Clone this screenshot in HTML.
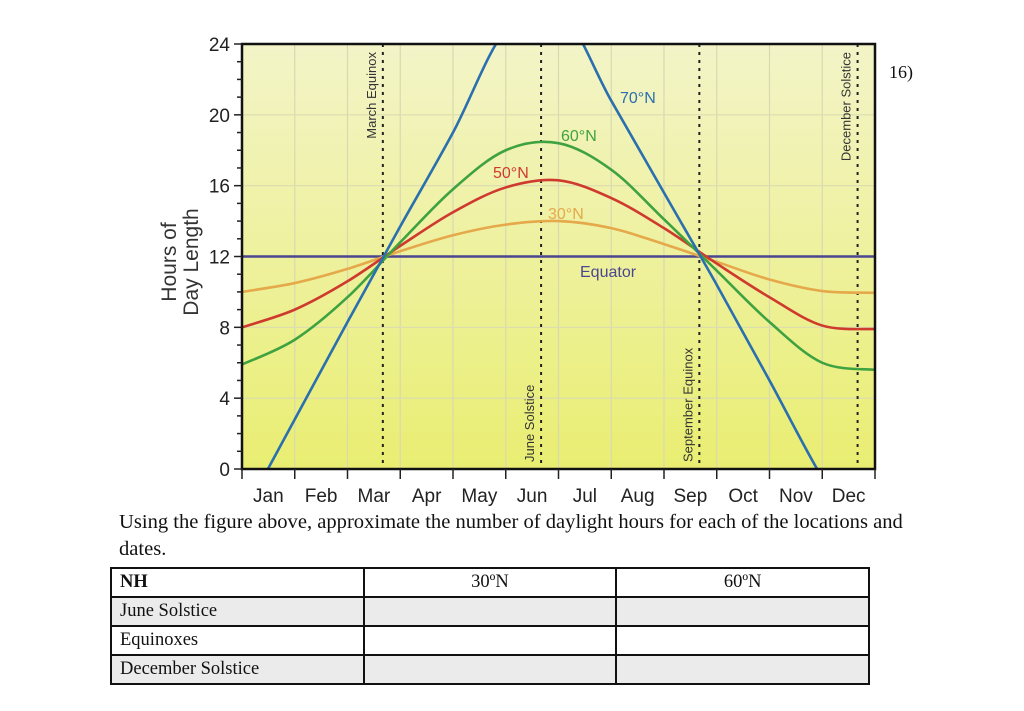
<!DOCTYPE html>
<html><head><meta charset="utf-8"><style>
body{margin:0;width:1024px;height:711px;background:#fff;overflow:hidden;position:relative;font-family:"Liberation Sans",sans-serif}
.serif{font-family:"Liberation Serif",serif;color:#111}
table{position:absolute;left:110px;top:567px;width:760px;table-layout:fixed;border-collapse:collapse;font-family:"Liberation Serif",serif;font-size:18.5px;color:#111}
td{border:2px solid #111;height:27px;padding:0 8px;line-height:27px}
tr.g td{background:#ebebeb}
</style></head><body>
<svg width="1024" height="711" style="position:absolute;left:0;top:0">
<defs>
<linearGradient id="bg" x1="0" y1="0" x2="0" y2="1"><stop offset="0" stop-color="#f3f4c8"/><stop offset="1" stop-color="#e9ee72"/></linearGradient>
<clipPath id="clip"><rect x="242" y="44" width="633" height="425"/></clipPath>
</defs>
<rect x="242" y="44" width="633" height="425" fill="url(#bg)"/>
<g id="grid"></g>
<g id="series" clip-path="url(#clip)"></g>
<g id="axes"></g>
<g id="labels" font-size="15"></g>
<text x="889" y="78" font-family="Liberation Serif,serif" font-size="18" fill="#111">16)</text>
<g transform="translate(186,262) rotate(-90)" font-size="21" fill="#333" text-anchor="middle">
<text x="0" y="-10">Hours of</text><text x="0" y="12">Day Length</text></g>
</svg>
<div class="serif" style="position:absolute;left:119px;top:512px;font-size:19.5px;white-space:nowrap;transform:scaleX(1.055);transform-origin:0 0">Using the figure above, approximate the number of daylight hours for each of the locations and</div>
<div class="serif" style="position:absolute;left:119px;top:539px;font-size:19.5px;transform:scaleX(1.055);transform-origin:0 0">dates.</div>
<table>
<tr><td><b>NH</b></td><td style="text-align:center">30ºN</td><td style="text-align:center">60ºN</td></tr>
<tr class="g"><td>June Solstice</td><td></td><td></td></tr>
<tr><td>Equinoxes</td><td></td><td></td></tr>
<tr class="g"><td>December Solstice</td><td></td><td></td></tr>
</table>
<script>
const months=["Jan","Feb","Mar","Apr","May","Jun","Jul","Aug","Sep","Oct","Nov","Dec"];
const yTicks=[0,4,8,12,16,20,24];
// values at month boundaries (Jan 1 ... Dec 31), 13 points
const eq=[12,12,12,12,12,12,12,12,12,12,12,12,12];
const n30=[10.0,10.5,11.3,12.3,13.2,13.8,14.0,13.6,12.7,11.7,10.7,10.05,9.95];
const n50=[8.0,9.0,10.6,12.6,14.5,15.9,16.3,15.3,13.6,11.6,9.7,8.1,7.9];
const n60=[5.9,7.3,9.7,12.8,15.8,18.0,18.4,16.9,14.1,11.2,8.3,6.0,5.6];
const n70=[-2.7,2.8,8.3,13.7,19.0,24.8,26.0,20.8,15.6,10.4,5.0,-0.5,-5];
const events=[{m:2.67,t:"March Equinox",top:true},{m:5.67,t:"June Solstice",top:false},{m:8.67,t:"September Equinox",top:false},{m:11.67,t:"December Solstice",top:true}];
const X0=242,X1=875,Y0=469,Y1=44;
const xs=m=>X0+(X1-X0)*m/12, ys=v=>Y0-(Y0-Y1)*v/24;
const NS="http://www.w3.org/2000/svg";
function mk(tag,at,parent){const e=document.createElementNS(NS,tag);for(const k in at)e.setAttribute(k,at[k]);document.getElementById(parent).appendChild(e);return e;}
for(let i=1;i<12;i++){const l=mk("line",{x1:xs(i),x2:xs(i),y1:Y1,y2:Y0,stroke:"#d9d9b0","stroke-width":1.2},"grid");

}
yTicks.forEach(v=>{if(v>0&&v<24){const l=mk("line",{x1:X0,x2:X1,y1:ys(v),y2:ys(v),stroke:"#dcdcb0","stroke-width":1.2},"grid");

}});
function path(arr){const p=arr.map((v,i)=>[xs(i),ys(v)]);let d="M"+p[0];for(let i=0;i<p.length-1;i++){const a=p[Math.max(0,i-1)],b=p[i],c=p[i+1],e=p[Math.min(p.length-1,i+2)];
const c1=[b[0]+(c[0]-a[0])/6,b[1]+(c[1]-a[1])/6],c2=[c[0]-(e[0]-b[0])/6,c[1]-(e[1]-b[1])/6];d+=" C"+c1+" "+c2+" "+c;}return d;}
events.forEach(ev=>{const l=mk("line",{x1:xs(ev.m),x2:xs(ev.m),y1:Y1,y2:Y0,stroke:"#222","stroke-width":2,"stroke-dasharray":"3,5"},"grid");


const x=xs(ev.m)-7,y=ev.top?52:462;
const t=mk("text",{x:0,y:0,transform:`translate(${x},${y}) rotate(-90)`,"font-size":13,fill:"#333","text-anchor":ev.top?"end":"start"},"grid");t.textContent=ev.t;

});
[[eq,"#4b4690"],[n30,"#e5a84a"],[n50,"#cf3a2f"],[n60,"#3fa240"],[n70,"#2a6fae"]].forEach(([a,c],i)=>{const p=mk("path",{d:path(a),fill:"none",stroke:c,"stroke-width":2.6},"series");

});
const fr=mk("rect",{x:X0,y:Y1,width:X1-X0,height:Y0-Y1,fill:"none",stroke:"#111","stroke-width":2.5},"axes");


for(let v=0;v<=24;v++){const big=v%4==0;mk("line",{x1:X0-(big?8:5),x2:X0,y1:ys(v),y2:ys(v),stroke:"#222","stroke-width":1.5},"axes");}
yTicks.forEach(v=>{const t=mk("text",{x:X0-12,y:ys(v)+7,"text-anchor":"end","font-size":19,fill:"#222"},"axes");t.textContent=v;

});
for(let i=0;i<=12;i++)mk("line",{x1:xs(i),x2:xs(i),y1:Y0,y2:Y0+10,stroke:"#222","stroke-width":1.5},"axes");
months.forEach((m,i)=>{const t=mk("text",{x:xs(i+0.5),y:Y0+33,"text-anchor":"middle","font-size":19,fill:"#222"},"axes");t.textContent=m;

});
[["70°N",620,103,"#2a6fae"],["60°N",561,141,"#3fa240"],["50°N",493,178,"#cf3a2f"],["30°N",548,219,"#e5a84a"],["Equator",580,277,"#4b4690"]].forEach(([s,x,y,c])=>{const t=mk("text",{x,y,fill:c,"font-size":16},"labels");t.textContent=s;

});
</script>
</body></html>
